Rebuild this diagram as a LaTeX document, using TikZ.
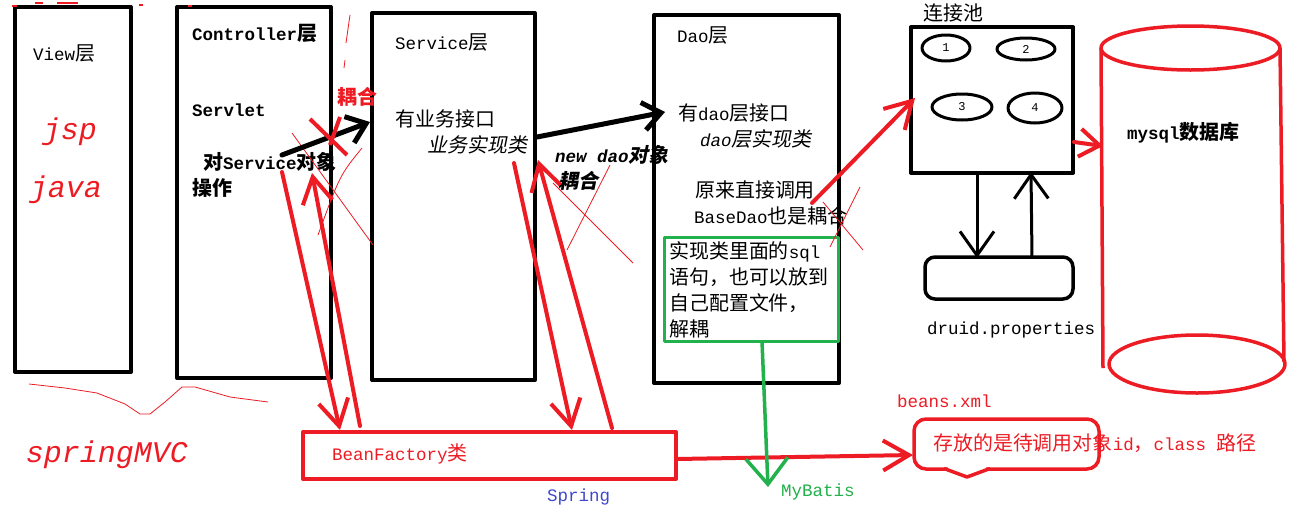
\documentclass[tikz,border=0pt]{standalone}
\usepackage{fontspec}
\setmainfont{Liberation Mono}
\newfontfamily\zhfont{Noto Sans CJK SC}[Scale=1.14]
\newfontfamily\zhslfont{Noto Sans CJK SC}[Scale=1.14, FakeSlant=0.2]
\newfontfamily\handfont{Liberation Mono}
\newcommand{\zh}[1]{{\zhfont #1}}
\newcommand{\zhsl}[1]{{\zhslfont #1}}
\newcommand{\basefont}{\fontsize{17.5}{26}\selectfont}
\usetikzlibrary{arrows.meta, calc, positioning}
\definecolor{pred}{HTML}{ED1C24}
\definecolor{pgreen}{HTML}{22B14C}
\definecolor{pblue}{HTML}{3F48CC}
\tikzset{
  layer/.style     = {draw=black, line width=4pt, inner sep=0pt},
  notebox/.style   = {draw=pgreen, line width=3pt, inner sep=0pt},
  redbox/.style    = {draw=pred, line width=4pt, inner sep=0pt},
  lbl/.style       = {inner sep=0pt, anchor=west, align=left, font=\basefont},
  boldlbl/.style   = {lbl, font=\basefont\bfseries},
  itlbl/.style     = {lbl, font=\basefont\itshape},
  hand/.style      = {inner sep=0pt, text=pred, font=\handfont\itshape\fontsize{30}{30}\selectfont},
  digit/.style     = {inner sep=0pt, font=\handfont\fontsize{12}{12}\selectfont},
  connring/.style  = {draw=black, line width=3pt},
  dbline/.style    = {draw=pred, line width=3.5pt},
  callarrow/.style = {draw=black, line width=5pt, line cap=round,
                      -{Straight Barb[length=18pt, width=28pt]}},
  beanarrow/.style = {draw=pred, line width=4pt, line cap=round,
                      -{Straight Barb[length=26pt, width=30pt]}},
  poolarrow/.style = {draw=black, line width=3pt,
                      -{Straight Barb[length=24pt, width=34pt]}},
  cfgarrow/.style  = {draw=pgreen, line width=3.5pt,
                      -{Straight Barb[length=26pt, width=42pt]}},
  strike/.style    = {draw=pred, line width=4pt},
  scribble/.style  = {draw=pred, line width=0.8pt},
}

\begin{document}
\begin{tikzpicture}[x=1pt, y=-1pt, line join=round]
  \useasboundingbox[fill=white] (0,0) rectangle (1302,512);
  % layers
  \node[layer, minimum width=116pt, minimum height=365pt] (view) at (73,189.5) {};
  \node[layer, minimum width=154pt, minimum height=371pt] (ctrl) at (254,192.5) {};
  \node[layer, minimum width=163pt, minimum height=367pt] (svc)  at (453.5,196.5) {};
  \node[layer, minimum width=185pt, minimum height=368pt] (dao)  at (746.5,199) {};
  \node[notebox, minimum width=174pt, minimum height=104pt] (sqlnote) at (751,289) {};
  \node[layer, minimum width=162pt, minimum height=146pt] (pool) at (992,100) {};
  \node[layer, line width=3.5pt, rounded corners=10pt, minimum width=148pt,
        minimum height=42pt] (druid) at (999,278) {};
  \node[redbox, minimum width=373pt, minimum height=47pt] (factory) at (489.5,455.5) {};
  \node[redbox, line width=3.5pt, rounded corners=12pt, minimum width=185pt,
        minimum height=50pt] (bubble) at (1006.5,444) {};
  \draw[white, line width=4.5pt] (948,469) -- (986,469);
  \draw[redbox, line width=3.5pt] (944,468.5) -- (967,477) -- (990,468.5);
  % connections
  \foreach \cx/\cy/\rx/\ry/\n in {946/48/24/13/1, 1026/49/29/11/2, 962/107/30/13/3, 1035/108/27/15/4}{%
    \draw[connring] (\cx,\cy) ellipse [x radius=\rx, y radius=\ry];
    \node[digit] (conn\n) at (\cx,\cy) {\n};}
  % database
  \draw[dbline] (1190.5,48) ellipse [x radius=89.5, y radius=22];
  \draw[dbline] (1101,48) -- (1103,368);
  \draw[dbline] (1280,48) -- (1284,362);
  \draw[dbline] (1197,364) ellipse [x radius=88, y radius=29];
  % labels
  \node[lbl] (viewlbl) at (33,53) {View\zh{层}};
  \node[boldlbl] (ctrllbl) at (192,33) {Controller\zh{层}};
  \node[boldlbl] (servlet) at (192,110) {Servlet};
  \node[boldlbl] (ctrlops) at (192,175) {\hspace*{11pt}\zh{对}Service\zh{对象}\\\zh{操作}};
  \node[boldlbl, text=pred] (couple1) at (337,97) {\zh{耦合}};
  \node[lbl] (svclbl) at (395,42) {Service\zh{层}};
  \node[lbl] (svcif) at (395,119) {\zh{有业务接口}};
  \node[itlbl] (svcimpl) at (427,145) {\zhsl{业务实现类}};
  \node[boldlbl, font=\basefont\bfseries\itshape] (newdao) at (555,168)
    {new dao\zhsl{对象}\\\hspace*{3pt}\zhsl{耦合}};
  \node[lbl] (daolbl) at (677,35) {Dao\zh{层}};
  \node[lbl] (daoif) at (678,113) {\zh{有}dao\zh{层接口}};
  \node[itlbl] (daoimpl) at (700,139) {dao\zhsl{层实现类}};
  \node[lbl] (basedao) at (694,203) {\hspace*{1pt}\zh{原来直接调用}\\BaseDao\zh{也是耦合}};
  \node[lbl] (sqllbl) at (669,290)
    {\zh{实现类里面的}sql\\\zh{语句，也可以放到}\\\zh{自己配置文件，}\\\zh{解耦}};
  \node[lbl] (poollbl) at (923,13) {\zh{连接池}};
  \node[lbl] (druidlbl) at (927,330) {druid.properties};
  \node[boldlbl] (dblbl) at (1127,133) {mysql\zh{数据库}};
  \node[lbl, text=pred] (factorylbl) at (332,454) {BeanFactory\zh{类}};
  \node[lbl, text=pblue] (springlbl) at (547,497) {Spring};
  \node[lbl, text=pgreen] (mybatislbl) at (781,492) {MyBatis};
  \node[lbl, text=pred] (beanslbl) at (897,401) {beans.xml};
  \node[lbl, text=pred] (bubblelbl) at (933,443) {\zh{存放的是待调用对象}id\zh{，}class \zh{路径}};
  % hand notes
  \node[hand] (jsp) at (70,132) {jsp};
  \node[hand] (java) at (66,190) {java};
  \node[hand] (smvc) at (107,455) {springMVC};
  \foreach \a/\b/\h in {12/17/6, 35/43/3, 57/78/3, 139/143/5, 188/192/6}{%
    \draw[pred, line width=1.2pt] (\a,\h) -- (\b,\h);}
  \draw[scribble] (29,384) -- (65,388) -- (97,393) -- (125,404) -- (140,414) -- (150,414)
    -- (165,402) -- (182,387) -- (195,387) -- (230,397) -- (268,402);
  \draw[scribble] (350,15) -- (346,43);
  \draw[scribble] (345,60) -- (344,68);
  \draw[scribble] (292,133) -- (373,245);
  \draw[scribble] (362,148) .. controls (340,175) .. (318,235);
  \draw[scribble] (610,165) -- (567,250);
  \draw[scribble] (553,183) -- (633,263);
  \draw[scribble] (860,187) -- (830,247);
  \draw[scribble] (823,202) -- (863,250);
  % arrow ends
  \coordinate (ctrlout)  at (282,155);
  \coordinate (svcin)    at (370,122);
  \coordinate (svcout)   at (537,137);
  \coordinate (daoin)    at (665,112);
  \coordinate (ctrldown) at (282,172);
  \coordinate (facin1)   at (340,430);
  \coordinate (facout1)  at (360,426);
  \coordinate (ctrlup)   at (312,173);
  \coordinate (svcdown)  at (514,163);
  \coordinate (facin2)   at (572,430);
  \coordinate (facout2)  at (612,428);
  \coordinate (svcup)    at (538,160);
  \coordinate (daoout)   at (812,203);
  \coordinate (poolin)   at (915,98);
  \coordinate (poolout)  at (1074,142);
  \coordinate (dbin)     at (1103,146);
  \coordinate (pooldown) at (977,173);
  \coordinate (druidin)  at (977,258);
  \coordinate (druidout) at (1032,257);
  \coordinate (poolup)   at (1031,172);
  \coordinate (facright) at (677,459);
  \coordinate (bubblein) at (913,455);
  \coordinate (notedown) at (762,341);
  \coordinate (mybatis)  at (768,487);
  % arrows
  \draw[callarrow] (ctrlout) -- (svcin);
  \draw[callarrow] (svcout) -- (daoin);
  \draw[beanarrow] (ctrldown) -- (facin1);
  \draw[beanarrow] (facout1) -- (ctrlup);
  \draw[beanarrow] (svcdown) -- (facin2);
  \draw[beanarrow] (facout2) -- (svcup);
  \draw[beanarrow] (daoout) -- (poolin);
  \draw[beanarrow, -{Straight Barb[length=20pt, width=28pt]}] (poolout) -- (dbin);
  \draw[beanarrow] (facright) -- (bubblein);
  \draw[poolarrow] (pooldown) -- (druidin);
  \draw[poolarrow] (druidout) -- (poolup);
  \draw[cfgarrow] (notedown) -- (mybatis);
  \draw[strike] (310,119) -- (347,155);
  \draw[strike] (340,117) -- (330,145);
\end{tikzpicture}
\end{document}
